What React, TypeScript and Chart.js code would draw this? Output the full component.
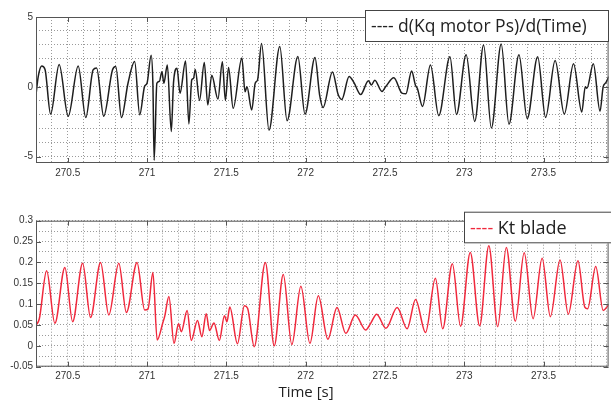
import React, { useEffect, useRef } from 'react';
import { Chart, registerables } from 'chart.js';
Chart.register(...registerables);

// ---------- data ----------
const kqTime = [270.300, 270.314, 270.336, 270.357, 270.392, 270.446, 270.503, 270.566, 270.614, 270.660,
  270.682, 270.727, 270.782, 270.803, 270.839, 270.880, 270.922, 270.954, 270.985, 271.000,
  271.026, 271.037, 271.045, 271.062, 271.078, 271.094, 271.106, 271.128, 271.153, 271.167,
  271.189, 271.208, 271.243, 271.264, 271.282, 271.293, 271.304, 271.331, 271.361, 271.383,
  271.408, 271.447, 271.475, 271.494, 271.514, 271.543, 271.598, 271.618, 271.630, 271.660,
  271.682, 271.697, 271.722, 271.769, 271.837, 271.883, 271.951, 271.996, 272.059, 272.088,
  272.110, 272.169, 272.205, 272.228, 272.274, 272.305, 272.347, 272.396, 272.415, 272.436,
  272.481, 272.504, 272.556, 272.607, 272.632, 272.668, 272.693, 272.704, 272.737, 272.787,
  272.839, 272.910, 272.951, 273.012, 273.066, 273.122, 273.171, 273.233, 273.282, 273.345,
  273.397, 273.463, 273.513, 273.573, 273.631, 273.689, 273.741, 273.763, 273.773, 273.814,
  273.856, 273.876, 273.893, 273.911];
const kqValues = [-0.57, 0.74, 1.5, 1.24, -1.95, 1.6, -2.1, 1.5, -2.2, 1.21,
  1.35, -2.1, 1.21, 1.45, -2.2, 0.26, 1.81, -2.0, 0.05, 0.26,
  2.26, 0.2, -5.25, 0.26, 0.4, 1.09, 0.26, 1.57, -3.19, 0.3,
  1.33, -0.45, 1.85, -2.65, 0.5, 0.6, 1.24, -0.97, 1.74, -1.29,
  0.83, -0.87, 1.8, -0.97, 1.39, -1.54, 2.06, -0.35, 0.0, -1.66,
  0.26, 0.5, 3.1, -3.1, 2.88, -2.42, 2.17, -1.95, 2.1, -0.57,
  -1.48, 1.07, -0.55, -0.9, 0.74, 0.3, -0.55, 0.44, 0.14, 0.48,
  -0.33, 0.0, 0.65, -0.45, -0.5, 1.13, 0.1, -0.1, -1.4, 1.57,
  -2.06, 2.15, -1.97, 2.29, -2.48, 3.0, -2.95, 3.06, -2.67, 2.29,
  -2.27, 2.15, -2.19, 1.88, -1.95, 1.65, -1.8, 0.0, -0.1, 1.65,
  -1.75, 0.02, 0.3, 0.74];

const ktTime = [270.300, 270.321, 270.367, 270.419, 270.482, 270.531, 270.594, 270.644, 270.707, 270.759,
  270.822, 270.870, 270.937, 270.985, 271.006, 271.037, 271.064, 271.100, 271.111, 271.138,
  271.170, 271.199, 271.216, 271.253, 271.279, 271.318, 271.346, 271.373, 271.394, 271.422,
  271.456, 271.488, 271.504, 271.522, 271.570, 271.614, 271.634, 271.676, 271.746, 271.802,
  271.859, 271.913, 271.970, 272.027, 272.080, 272.140, 272.198, 272.253, 272.313, 272.379,
  272.410, 272.448, 272.506, 272.577, 272.640, 272.693, 272.756, 272.818, 272.864, 272.925,
  272.977, 273.038, 273.097, 273.155, 273.211, 273.265, 273.322, 273.378, 273.434, 273.491,
  273.543, 273.604, 273.656, 273.717, 273.760, 273.778, 273.829, 273.876, 273.910];
const ktValues = [0.049, 0.065, 0.18, 0.054, 0.188, 0.058, 0.198, 0.068, 0.2, 0.074,
  0.198, 0.08, 0.2, 0.086, 0.088, 0.176, 0.014, 0.056, 0.07, 0.118,
  0.006, 0.053, 0.034, 0.085, 0.013, 0.061, 0.022, 0.077, 0.037, 0.055,
  0.013, 0.072, 0.058, 0.093, 0.005, 0.096, 0.09, -0.002, 0.2, 0.0,
  0.171, 0.003, 0.143, 0.006, 0.12, 0.016, 0.092, 0.03, 0.074, 0.038,
  0.054, 0.076, 0.042, 0.092, 0.041, 0.111, 0.032, 0.162, 0.041, 0.197,
  0.047, 0.224, 0.048, 0.24, 0.046, 0.236, 0.059, 0.223, 0.065, 0.21,
  0.07, 0.206, 0.076, 0.204, 0.093, 0.089, 0.19, 0.085, 0.098];

const xTickLabels = ['270.5', '271', '271.5', '272', '272.5', '273', '273.5'];
const topYTickLabels = ['-5', '0', '5'];
const bottomYTickLabels = ['-0.05', '0', '0.05', '0.1', '0.15', '0.2', '0.25', '0.3'];
const kqLabel = 'd(Kq motor Ps)/d(Time)';
const ktLabel = 'Kt blade';
const xAxisTitle = 'Time [s]';

const X_MIN = 270.3;
const X_MAX = 273.91;

const round3 = (v: number) => Math.round(v * 1000) / 1000;
const stepTicks = (from: number, to: number, step: number) => {
  const out: { value: number }[] = [];
  const n = Math.round((to - from) / step);
  for (let k = 0; k <= n; k++) out.push({ value: round3(from + k * step) });
  return out;
};
const labelFilter = (labels: string[]) => (v: any) => {
  const s = String(round3(Number(v)));
  return labels.includes(s) ? s : '';
};

const TICK_FONT = { family: '"Liberation Sans", Arial, sans-serif', size: 10 };
const GRID = { color: '#9a9a9a', lineWidth: 1, drawTicks: false };

const framePlugin = {
  id: 'frameLegend',
  afterDraw(chart: any, _args: any, opts: any) {
    const { ctx, chartArea: a } = chart;
    const xs = chart.scales.x, ys = chart.scales.y;
    ctx.save();
    ctx.strokeStyle = '#555';
    ctx.lineWidth = 1;
    ctx.strokeRect(a.left + 0.5, a.top + 0.5, a.right - a.left - 1, a.bottom - a.top - 1);
    ctx.beginPath();
    (opts.xLabels || []).forEach((lab: string) => {
      const px = Math.round(xs.getPixelForValue(parseFloat(lab))) + 0.5;
      ctx.moveTo(px, a.bottom); ctx.lineTo(px, a.bottom - 5);
      ctx.moveTo(px, a.top); ctx.lineTo(px, a.top + 5);
    });
    (opts.yLabels || []).forEach((lab: string) => {
      const py = Math.round(ys.getPixelForValue(parseFloat(lab))) + 0.5;
      ctx.moveTo(a.left, py); ctx.lineTo(a.left + 5, py);
      ctx.moveTo(a.right, py); ctx.lineTo(a.right - 5, py);
    });
    ctx.stroke();
    const L = opts.legend;
    if (L) {
      ctx.fillStyle = '#ffffff';
      ctx.fillRect(L.x, L.y, L.w, L.h);
      ctx.strokeStyle = '#444';
      ctx.strokeRect(L.x + 0.5, L.y + 0.5, L.w - 1, L.h - 1);
      ctx.font = `${L.size}px "Open Sans", "Noto Sans", sans-serif`;
      ctx.textBaseline = 'middle';
      ctx.textAlign = 'left';
      const ty = L.y + L.h / 2 + 1;
      ctx.fillStyle = L.dashColor;
      ctx.fillText('----', L.x + L.pad, ty);
      const w = ctx.measureText('---- ').width;
      ctx.fillStyle = '#222';
      ctx.fillText(chart.data.datasets[0].label, L.x + L.pad + w, ty);
    }
    if (opts.title) {
      ctx.font = `15px "Open Sans", "Noto Sans", sans-serif`;
      ctx.fillStyle = '#222';
      ctx.textAlign = 'center';
      ctx.textBaseline = 'middle';
      ctx.fillText(opts.title.text, opts.title.x, opts.title.y);
    }
    ctx.restore();
  },
};

function makeConfig(opts: {
  times: number[]; values: number[]; label: string; color: string;
  yMin: number; yMax: number; yStep: number; yFrom: number; yTo: number; yLabels: string[];
  padTop: number; xAxisH: number; legend: any; title?: any;
}): any {
  return {
    type: 'line',
    data: {
      datasets: [{
        label: opts.label,
        data: opts.times.map((t, i) => ({ x: t, y: opts.values[i] })),
        borderColor: opts.color,
        borderWidth: 1.5,
        pointRadius: 0,
        fill: false,
        cubicInterpolationMode: 'monotone',
      }],
    },
    options: {
      responsive: false,
      animation: false,
      events: [],
      layout: { padding: { left: 0, right: 1, top: opts.padTop, bottom: 0 } },
      plugins: {
        legend: { display: false },
        tooltip: { enabled: false },
        frameLegend: { xLabels: xTickLabels, yLabels: opts.yLabels, legend: opts.legend, title: opts.title },
      },
      scales: {
        x: {
          type: 'linear',
          min: X_MIN,
          max: X_MAX,
          afterBuildTicks: (s: any) => { s.ticks = stepTicks(270.4, 273.9, 0.1); },
          afterFit: (s: any) => { s.height = opts.xAxisH; },
          ticks: { autoSkip: false, maxRotation: 0, padding: 4, color: '#333', font: TICK_FONT, callback: labelFilter(xTickLabels) },
          grid: GRID,
          border: { display: false, dash: [1, 2] },
        },
        y: {
          type: 'linear',
          min: opts.yMin,
          max: opts.yMax,
          afterBuildTicks: (s: any) => { s.ticks = stepTicks(opts.yFrom, opts.yTo, opts.yStep); },
          afterFit: (s: any) => { s.width = 36; },
          ticks: { autoSkip: false, padding: 3, color: '#333', font: TICK_FONT, callback: labelFilter(opts.yLabels) },
          grid: GRID,
          border: { display: false, dash: [1, 2] },
        },
      },
    },
    plugins: [framePlugin],
  };
}

export default function App() {
  const topRef = useRef<HTMLCanvasElement>(null);
  const botRef = useRef<HTMLCanvasElement>(null);

  useEffect(() => {
    const c1 = new Chart(topRef.current as HTMLCanvasElement, makeConfig({
      times: kqTime, values: kqValues, label: kqLabel, color: '#1e1e1e',
      yMin: -5.45, yMax: 5, yStep: 1, yFrom: -5, yTo: 5, yLabels: topYTickLabels,
      padTop: 17, xAxisH: 27,
      legend: { x: 365, y: 10, w: 244, h: 32, pad: 6, size: 17.5, dashColor: '#222' },
    }));
    const c2 = new Chart(botRef.current as HTMLCanvasElement, makeConfig({
      times: ktTime, values: ktValues, label: ktLabel, color: '#f0283c',
      yMin: -0.05, yMax: 0.3, yStep: 0.025, yFrom: -0.05, yTo: 0.3, yLabels: bottomYTickLabels,
      padTop: 30.7, xAxisH: 36.3,
      legend: { x: 464, y: 21.7, w: 150, h: 31.6, pad: 6, size: 18, dashColor: '#f0283c' },
      title: { text: xAxisTitle, x: 306, y: 203 },
    }));
    return () => { c1.destroy(); c2.destroy(); };
  }, []);

  return (
    <div style={{ position: 'fixed', left: 0, top: 0, width: 611, height: 403, background: '#fff', overflow: 'hidden' }}>
      <canvas ref={topRef} width={611} height={190} style={{ position: 'absolute', left: 0, top: 0 }} />
      <canvas ref={botRef} width={611} height={213} style={{ position: 'absolute', left: 0, top: 190 }} />
    </div>
  );
}
